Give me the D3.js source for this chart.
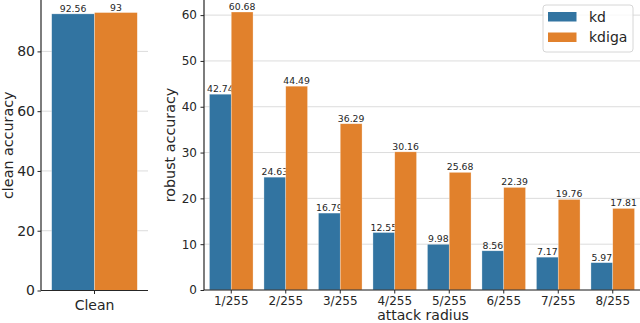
<!DOCTYPE html>
<html>
<head>
<meta charset="utf-8">
<script src="https://cdn.jsdelivr.net/npm/d3@7"></script>
<style>
  body { margin: 0; background: #fff; }
  text { font-family: "DejaVu Sans", sans-serif; fill: #262626; }
</style>
</head>
<body>
<script>
// data
var series = ["kd", "kdiga"];
var colors = ["#3274a1", "#e1812c"];
var cleanCats = ["Clean"];
var cleanVals = [92.56, 93];
var radii = ["1/255", "2/255", "3/255", "4/255", "5/255", "6/255", "7/255", "8/255"];
var kdVals = [42.74, 24.63, 16.79, 12.55, 9.98, 8.56, 7.17, 5.97];
var kdigaVals = [60.68, 44.49, 36.29, 30.16, 25.68, 22.39, 19.76, 17.81];
var cleanTicks = [0, 20, 40, 60, 80];
var robustTicks = [0, 10, 20, 30, 40, 50, 60];

var W = 640, H = 323;
var svg = d3.select("body").append("svg")
    .attr("width", W).attr("height", H);

function panel(opt) {
    var g = svg.append("g");
    var x = d3.scaleBand().domain(opt.cats).range([opt.x0, opt.x1]).paddingInner(0.2).paddingOuter(0.1);
    var y = d3.scaleLinear().domain([0, opt.ymax]).range([opt.y0, 0]);

    // grid
    g.selectAll(".grid").data(opt.ticks).enter().append("line")
        .attr("x1", opt.x0).attr("x2", opt.x1)
        .attr("y1", function(d) { return y(d); }).attr("y2", function(d) { return y(d); })
        .attr("stroke", "#dcdcdc").attr("stroke-width", 1);

    var sub = d3.scaleBand().domain(d3.range(series.length)).range([0, x.bandwidth()]);

    opt.data.forEach(function(vals, s) {
        g.selectAll(".bar" + s).data(vals).enter().append("rect")
            .attr("x", function(d, i) { return x(opt.cats[i]) + sub(s); })
            .attr("width", sub.bandwidth())
            .attr("y", function(d) { return y(d); })
            .attr("height", function(d) { return y(0) - y(d); })
            .attr("fill", colors[s])
            .attr("stroke", "#ffffff").attr("stroke-opacity", 0.5).attr("stroke-width", 0.6);
        g.selectAll(".lab" + s).data(vals).enter().append("text")
            .attr("x", function(d, i) { return x(opt.cats[i]) + sub(s) + sub.bandwidth() / 2; })
            .attr("y", function(d) { return y(d) - 2; })
            .attr("text-anchor", "middle")
            .style("font-size", "9.3px")
            .text(function(d) { return d; });
    });

    var yAxis = g.append("g").attr("transform", "translate(" + opt.x0 + ",0)")
        .call(d3.axisLeft(y).tickValues(opt.ticks).tickSize(3.5).tickPadding(opt.ypad));
    yAxis.select(".domain").attr("stroke", "#262626").attr("stroke-width", 1.2).attr("d", "M0," + opt.y0 + "V0");
    yAxis.selectAll(".tick line").attr("stroke", "#262626");
    yAxis.selectAll(".tick text").style("font-size", opt.tickFont).style("font-family", "DejaVu Sans").attr("fill", "#262626");

    var xAxis = g.append("g").attr("transform", "translate(0," + opt.y0 + ")")
        .call(d3.axisBottom(x).tickSize(3.5).tickPadding(opt.xpad));
    xAxis.select(".domain").attr("stroke", "#262626").attr("stroke-width", 1.2).attr("d", "M" + opt.x0 + ",0H" + opt.x1);
    xAxis.selectAll(".tick line").attr("stroke", "#262626");
    xAxis.selectAll(".tick text").style("font-size", opt.tickFont).style("font-family", "DejaVu Sans").attr("fill", "#262626");

    g.append("text")
        .attr("transform", "translate(" + opt.ylabX + "," + (opt.y0 / 2) + ") rotate(-90)")
        .attr("text-anchor", "middle")
        .style("font-size", "14.3px")
        .text(opt.ylabel);
    if (opt.xlabel) {
        g.append("text")
            .attr("x", (opt.x0 + opt.x1) / 2 + 1).attr("y", 320)
            .attr("text-anchor", "middle")
            .style("font-size", "14px")
            .text(opt.xlabel);
    }
    return g;
}

panel({
    cats: cleanCats, data: [[cleanVals[0]], [cleanVals[1]]],
    x0: 41, x1: 148, y0: 290.5, ymax: 97.2, ticks: cleanTicks,
    tickFont: "14px", ypad: 2.5, xpad: 6.5,
    ylabel: "clean accuracy", ylabX: 13
});

panel({
    cats: radii, data: [kdVals, kdigaVals],
    x0: 204, x1: 640, y0: 290, ymax: 63.3, ticks: robustTicks,
    tickFont: "12px", ypad: 3.5, xpad: 3,
    ylabel: "robust accuracy", ylabX: 175, xlabel: "attack radius"
});

// legend
var leg = svg.append("g").attr("transform", "translate(543,5)");
leg.append("rect").attr("width", 90).attr("height", 47).attr("rx", 3)
    .attr("fill", "#fff").attr("fill-opacity", 0.8)
    .attr("stroke", "#d6d6d6").attr("stroke-width", 1);
series.forEach(function(s, i) {
    leg.append("rect").attr("x", 5).attr("y", 7 + i * 20.5).attr("width", 28.5).attr("height", 9.5)
        .attr("fill", colors[i]);
    leg.append("text").attr("x", 46).attr("y", 16.5 + i * 20.5)
        .style("font-size", "14px").text(s);
});
</script>
</body>
</html>
